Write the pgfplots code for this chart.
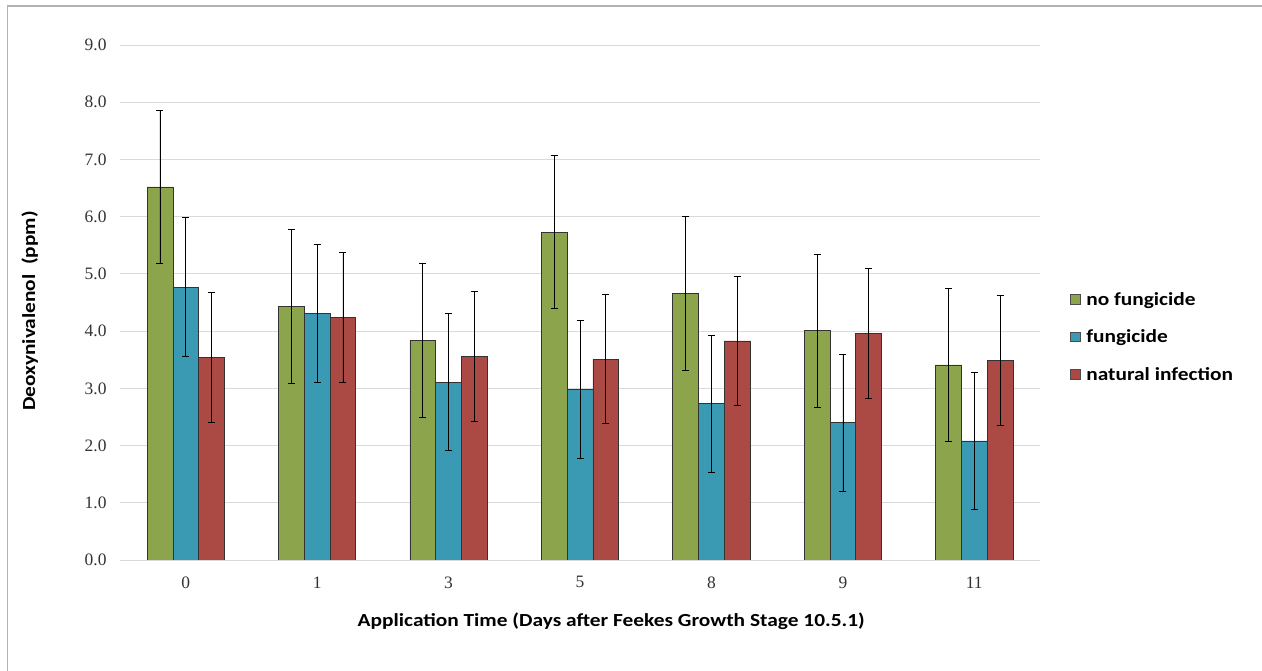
\documentclass[border=0pt]{standalone}
\usepackage{pgfplots}
\pgfplotsset{compat=1.18}
\usepackage{pgfplotstable}
\usepackage{fontspec}
\setmainfont{Liberation Serif}
\newfontfamily\carlito{Carlito}
\definecolor{cgreen}{HTML}{8CA54C}
\definecolor{cblue}{HTML}{3B9AB3}
\definecolor{cred}{HTML}{AB4A45}
\definecolor{cgrid}{HTML}{DADADA}
\newcommand{\wide}[1]{\scalebox{1.16}[1]{#1}}
\pgfplotstableread{
x g ge b be r re
0 6.52 1.34 4.77 1.21 3.54 1.13
1 4.43 1.34 4.31 1.21 4.24 1.13
2 3.84 1.34 3.11 1.20 3.56 1.13
3 5.73 1.34 2.98 1.20 3.51 1.13
4 4.66 1.34 2.73 1.20 3.83 1.13
5 4.01 1.34 2.40 1.20 3.96 1.13
6 3.41 1.34 2.08 1.20 3.49 1.13
}\data
\begin{document}
\begin{tikzpicture}
\useasboundingbox (0,0) rectangle (1262bp,671bp);
\draw[color=black!30, line width=1.5bp] (7.5bp,0) -- (7.5bp,665bp) -- (1262bp,665bp);
\begin{axis}[
  at={(120bp,111bp)}, anchor=south west,
  scale only axis, width=920bp, height=515bp,
  ybar=0pt, bar width=0.196,
  xmin=-0.5, xmax=6.5, ymin=0, ymax=9,
  xtick=data, xticklabels={0,1,3,5,8,9,11},
  ytick={0,1,...,9},
  axis line style={draw=none},
  major tick length=0pt,
  ymajorgrids, grid style={cgrid, line width=1bp},
  /pgf/number format/assume math mode=true,
  tick label style={font=\fontsize{17.5}{20}\selectfont, color=black!80},
  y tick label style={/pgf/number format/fixed, /pgf/number format/fixed zerofill, /pgf/number format/precision=1, xshift=-10bp},
  x tick label style={yshift=-13bp},
  ylabel={\wide{Deoxynivalenol\ \ (ppm)}},
  xlabel={\wide{Application Time (Days after Feekes Growth Stage 10.5.1)}},
  label style={font=\carlito\bfseries\fontsize{18.5}{22}\selectfont},
  ylabel style={at={(rel axis cs:-0.098,0.4835)}, anchor=center},
  xlabel style={at={(rel axis cs:0.534,-0.118)}, anchor=center},
  legend style={at={(1.0326,0.433)}, anchor=west, draw=none, fill=none,
    font=\carlito\bfseries\fontsize{18.5}{22}\selectfont, row sep=19bp,
    inner xsep=0pt, /tikz/every odd column/.append style={column sep=4bp}},
  legend cell align=left,
  error bars/error bar style={black, line width=0.7bp},
  error bars/error mark options={black, mark size=3.5bp, line width=0.7bp, rotate=90},
]
\addplot[fill=cgreen, draw=black!80, line width=0.6bp,
  error bars/.cd, y dir=both, y explicit,
  /pgfplots/legend image code/.code={\draw[fill=cgreen, draw=black!70, line width=0.6bp] (0bp,-4.5bp) rectangle (9.5bp,5bp);}]
  table[x=x, y=g, y error=ge] {\data};
\addplot[fill=cblue, draw=black!80, line width=0.6bp,
  error bars/.cd, y dir=both, y explicit,
  /pgfplots/legend image code/.code={\draw[fill=cblue, draw=black!70, line width=0.6bp] (0bp,-4.5bp) rectangle (9.5bp,5bp);}]
  table[x=x, y=b, y error=be] {\data};
\addplot[fill=cred, draw=black!80, line width=0.6bp,
  error bars/.cd, y dir=both, y explicit,
  /pgfplots/legend image code/.code={\draw[fill=cred, draw=black!70, line width=0.6bp] (0bp,-4.5bp) rectangle (9.5bp,5bp);}]
  table[x=x, y=r, y error=re] {\data};
\legend{\wide{no fungicide}, \wide{fungicide}, \wide{natural infection}}
\end{axis}
\end{tikzpicture}
\end{document}
